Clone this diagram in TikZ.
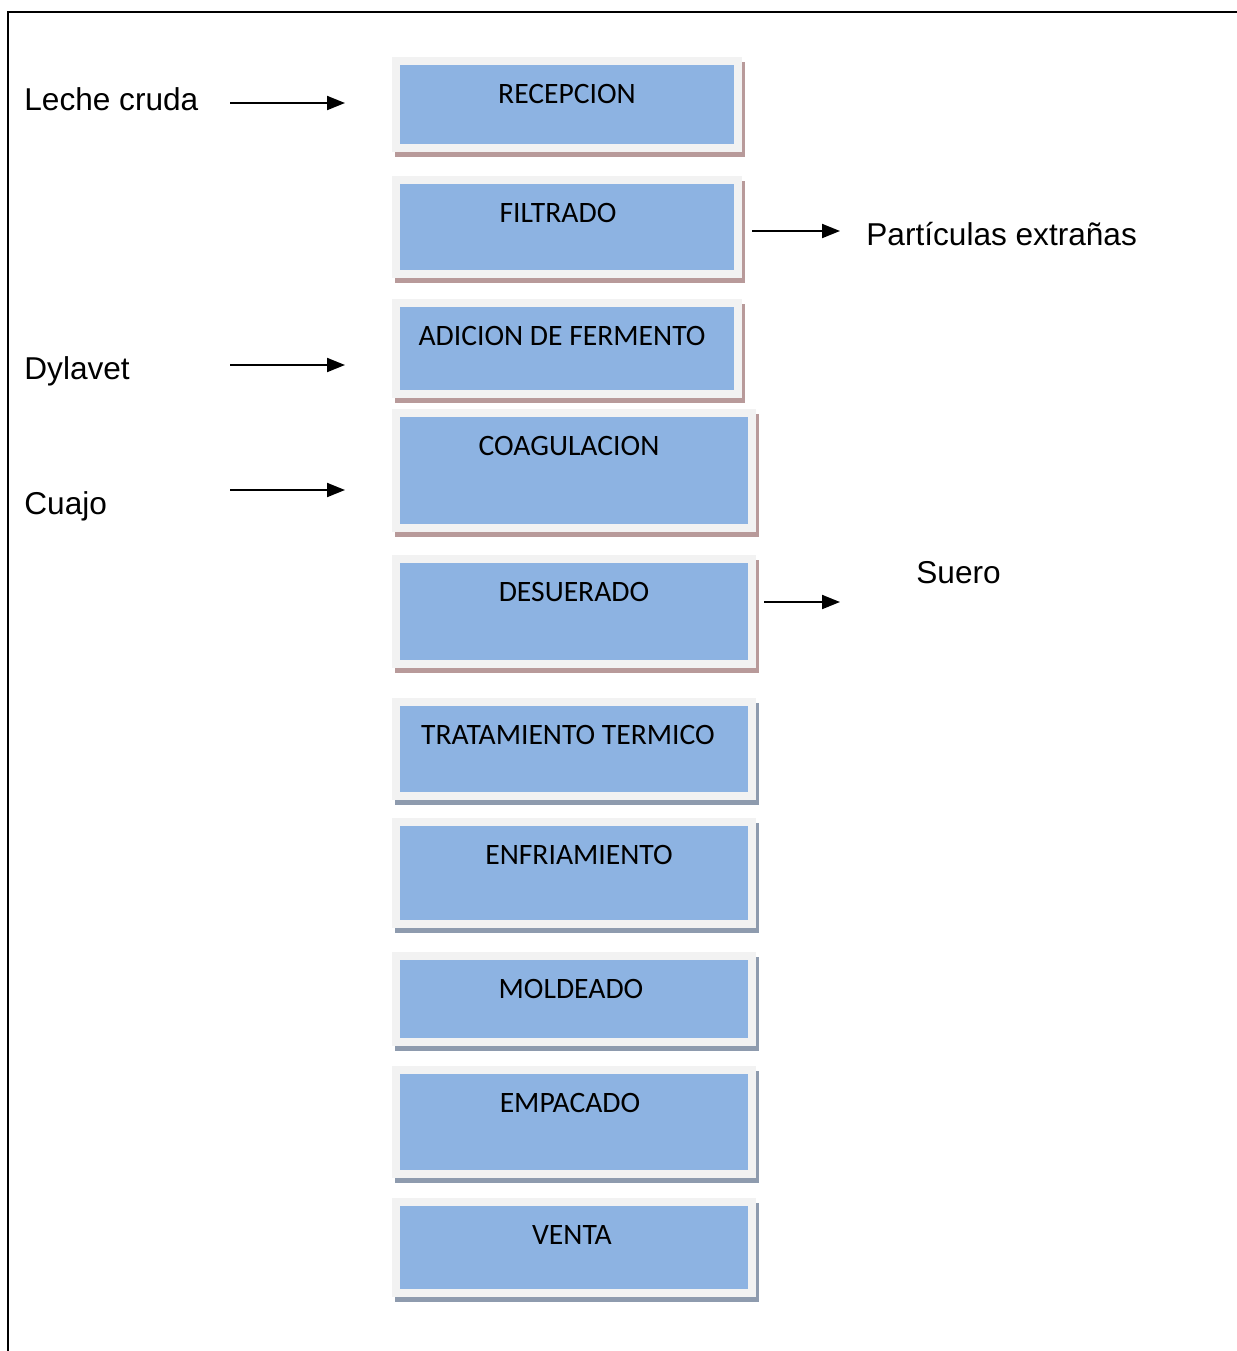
\documentclass[tikz,border=0pt]{standalone}
\usepackage{fontspec}
\setmainfont{Liberation Sans}
\newfontfamily\calibri{Carlito}
\usetikzlibrary{positioning, arrows.meta, shadows}

\definecolor{azulpaso}{HTML}{8DB3E2}
\definecolor{grisborde}{HTML}{F2F2F2}
\definecolor{sombrarosa}{HTML}{B89A9A}
\definecolor{sombragris}{HTML}{8E9BAE}

\begin{document}
\begin{tikzpicture}[
        x=0.5pt, y=-0.5pt,
        pasobox/.style={rectangle, fill=grisborde, inner sep=0pt, outer sep=0pt, minimum width=175pt,
            path picture={\fill[azulpaso] ([shift={(4pt,4pt)}]path picture bounding box.south west) rectangle ([shift={(-4pt,-4pt)}]path picture bounding box.north east);}},
        pasoA/.style={pasobox, drop shadow={shadow xshift=1.5pt, shadow yshift=-2.5pt, fill=sombrarosa, opacity=1}},
        pasoB/.style={pasobox, drop shadow={shadow xshift=1.5pt, shadow yshift=-2.5pt, fill=sombragris, opacity=1}},
        titulo/.style={anchor=base, inner sep=0pt, font=\calibri\fontsize{14.8}{17}\selectfont},
        etiqueta/.style={anchor=base west, inner sep=0pt, font=\fontsize{15.8}{19}\selectfont},
        flecha/.style={-{Triangle[length=9pt, width=7pt]}, line width=1pt},
    ]
        \useasboundingbox (0,0) rectangle (1237,1351);

        % Frame
        \draw[line width=1pt] (8,1351) -- (8,12) -- (1237,12);

        % Steps
        \node[pasoA, minimum height=47.5pt] (recep) at (567,104.5) {};
        \node[pasoA, minimum height=51pt] (filtr) at (567,227) {};
        \node[pasoA, minimum height=49.5pt] (ferm) at (567,348.5) {};
        \node[pasoA, minimum width=182pt, minimum height=61.5pt] (coag) at (574,470.5) {};
        \node[pasoA, minimum width=182pt, minimum height=56.5pt] (desu) at (574,611.5) {};
        \node[pasoB, minimum width=182pt, minimum height=51pt] (trat) at (574,749) {};
        \node[pasoB, minimum width=182pt, minimum height=55pt] (enfr) at (574,873) {};
        \node[pasoB, minimum width=182pt, minimum height=47pt] (mold) at (574,999) {};
        \node[pasoB, minimum width=182pt, minimum height=56pt] (empa) at (574,1122) {};
        \node[pasoB, minimum width=182pt, minimum height=49.5pt] (vent) at (574,1247.5) {};

        % Step titles
        \node[titulo] (t-recep) at ([yshift=-23pt]recep.north) {RECEPCION};
        \node[titulo] (t-filtr) at ([xshift=-4.5pt, yshift=-23pt]filtr.north) {FILTRADO};
        \node[titulo] (t-ferm) at ([xshift=-2.5pt, yshift=-23pt]ferm.north) {ADICION DE FERMENTO};
        \node[titulo] (t-coag) at ([xshift=-2.5pt, yshift=-23pt]coag.north) {COAGULACION};
        \node[titulo] (t-desu) at ([yshift=-23pt]desu.north) {DESUERADO};
        \node[titulo] (t-trat) at ([xshift=-3pt, yshift=-23pt]trat.north) {TRATAMIENTO TERMICO};
        \node[titulo] (t-enfr) at ([xshift=2.5pt, yshift=-23pt]enfr.north) {ENFRIAMIENTO};
        \node[titulo] (t-mold) at ([xshift=-1.5pt, yshift=-23pt]mold.north) {MOLDEADO};
        \node[titulo] (t-empa) at ([xshift=-2pt, yshift=-23pt]empa.north) {EMPACADO};
        \node[titulo] (t-vent) at ([xshift=-1pt, yshift=-23pt]vent.north) {VENTA};

        % Inputs and outputs
        \node[etiqueta] (leche) at (24,110) {Leche cruda};
        \node[etiqueta] (dyla) at (24,379) {Dylavet};
        \node[etiqueta] (cuajo) at (24,514) {Cuajo};
        \node[etiqueta] (parti) at (866,245) {Partículas extrañas};
        \node[etiqueta] (suero) at (916,583) {Suero};

        \coordinate (leche-a) at (230,103);
        \coordinate (leche-b) at (345,103);
        \coordinate (parti-a) at (752,231);
        \coordinate (parti-b) at (840,231);
        \coordinate (dyla-a) at (230,365);
        \coordinate (dyla-b) at (345,365);
        \coordinate (cuajo-a) at (230,490);
        \coordinate (cuajo-b) at (345,490);
        \coordinate (suero-a) at (764,602);
        \coordinate (suero-b) at (840,602);

        \draw[flecha] (leche-a) -- (leche-b);
        \draw[flecha] (parti-a) -- (parti-b);
        \draw[flecha] (dyla-a) -- (dyla-b);
        \draw[flecha] (cuajo-a) -- (cuajo-b);
        \draw[flecha] (suero-a) -- (suero-b);
    \end{tikzpicture}
\end{document}
